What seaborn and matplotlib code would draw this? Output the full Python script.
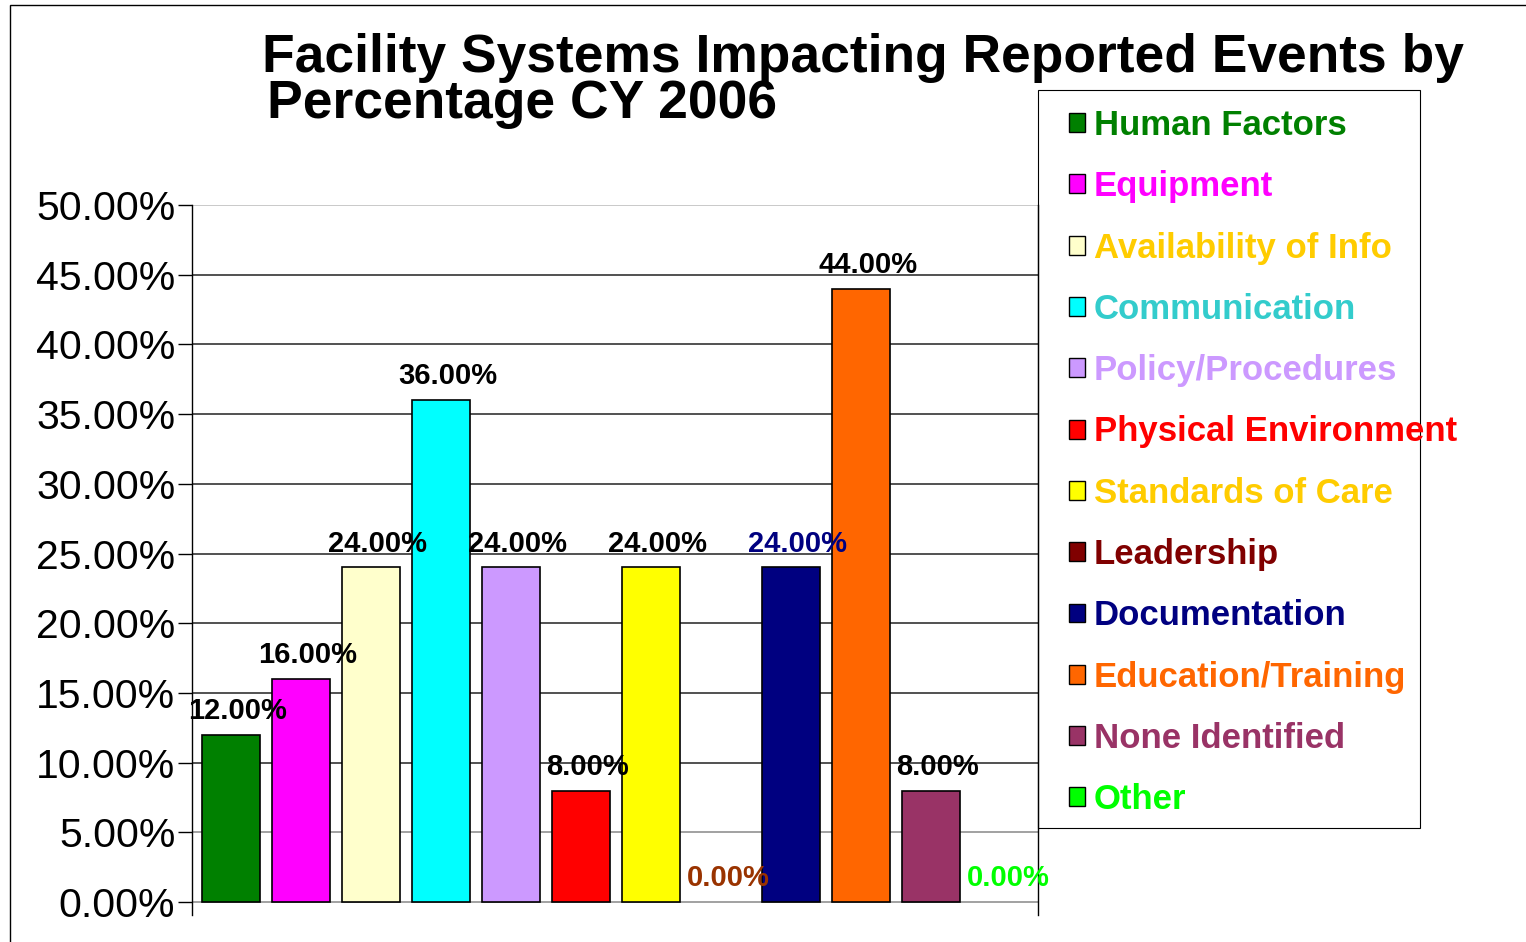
import numpy as np
import pandas as pd
import matplotlib
matplotlib.use("Agg")
import matplotlib.pyplot as plt
import seaborn as sns
from matplotlib.patches import Rectangle

categories = ["Human Factors", "Equipment", "Availability of Info", "Communication",
              "Policy/Procedures", "Physical Environment", "Standards of Care",
              "Leadership", "Documentation", "Education/Training",
              "None Identified", "Other"]
values = [12.0, 16.0, 24.0, 36.0, 24.0, 8.0, 24.0, 0.0, 24.0, 44.0, 8.0, 0.0]
bar_colors = ["#008000", "#FF00FF", "#FFFFCC", "#00FFFF", "#CC99FF", "#FF0000",
              "#FFFF00", "#800000", "#000080", "#FF6600", "#993366", "#00FF00"]
legend_text_colors = ["#008000", "#FF00FF", "#FFCC00", "#33CCCC", "#CC99FF", "#FF0000",
                      "#FFCC00", "#800000", "#000080", "#FF6600", "#993366", "#00FF00"]
label_colors = ["black"] * 7 + ["#993300", "#000080", "black", "black", "#00FF00"]
yticks = [0, 5, 10, 15, 20, 25, 30, 35, 40, 45, 50]

df = pd.DataFrame({"category": categories, "value": values})

sns.set_style("white")
plt.rcParams["font.family"] = ["Liberation Sans", "DejaVu Sans"]
plt.rcParams["text.color"] = "black"
plt.rcParams["ytick.color"] = "black"
plt.rcParams["ytick.labelcolor"] = "black"

W, H = 1526, 942
fig = plt.figure(figsize=(W / 100, H / 100), dpi=100)
ax = fig.add_axes([192 / W, 1 - 915 / H, (1038 - 192) / W, (915 - 205) / H])

sns.barplot(data=df, x="category", y="value", hue="category", palette=bar_colors,
            order=categories, hue_order=categories, legend=False, width=0.83,
            edgecolor="black", linewidth=1.2, saturation=1, ax=ax)

# zero-height bars should not show an outline
for p, v in zip(ax.patches, values):
    if v == 0:
        p.set_linewidth(0)

ax.set_ylim(-0.93, 50)
ax.set_xlim(-0.555, 11.53)
ax.set_yticks(yticks)
ax.set_yticklabels([f"{t:.2f}%" for t in yticks], fontsize=29.5, color="black")
ax.set_xticks([])
ax.set_xlabel("")
ax.set_ylabel("")
ax.tick_params(axis="y", direction="out", length=10, width=1, color="black", pad=2, left=True)

for t in yticks:
    c = "#BBBBBB" if t == 50 else ("#888888" if t in (0, 5) else "#222222")
    ax.axhline(t, color=c, lw=1.1, zorder=0)

for s in ["top", "bottom"]:
    ax.spines[s].set_visible(False)
for s in ["left", "right"]:
    ax.spines[s].set_color("black")
    ax.spines[s].set_linewidth(1)

for i, (v, c) in enumerate(zip(values, label_colors)):
    ax.annotate(f"{v:.2f}%", (i + 0.1, v), xytext=(0, 7), textcoords="offset points",
                ha="center", va="bottom", fontsize=21, fontweight="bold", color=c)

# legend box drawn separately so the padding matches
fig.patches.append(Rectangle((1038 / W, 1 - 828 / H), (1420 - 1038) / W, (828 - 90) / H,
                             transform=fig.transFigure, fill=False, edgecolor="black",
                             lw=0.8, zorder=1))
handles = [Rectangle((0, 0), 1, 1, facecolor=c, edgecolor="black", lw=1) for c in bar_colors]
leg = fig.legend(handles, categories, loc="upper left",
                 bbox_to_anchor=(1069 / W, 1 - 109 / H), frameon=False,
                 fontsize=25, handlelength=0.46, handleheight=0.46,
                 handletextpad=0.26, labelspacing=0.815, borderpad=0, borderaxespad=0)
for txt, c in zip(leg.get_texts(), legend_text_colors):
    txt.set_color(c)
    txt.set_fontweight("bold")

fig.text(262 / W, 1 - 72 / H, "Facility Systems Impacting Reported Events by",
         ha="left", va="baseline", fontsize=38.4, fontweight="bold", color="black")
fig.text(267 / W, 1 - 118 / H, "Percentage CY 2006",
         ha="left", va="baseline", fontsize=38.4, fontweight="bold", color="black")

fig.patches.append(Rectangle((10 / W, -0.1), 2, 1.1 - 5 / H, transform=fig.transFigure,
                             fill=False, edgecolor="black", lw=1))

fig.savefig("out.png", dpi=100)
